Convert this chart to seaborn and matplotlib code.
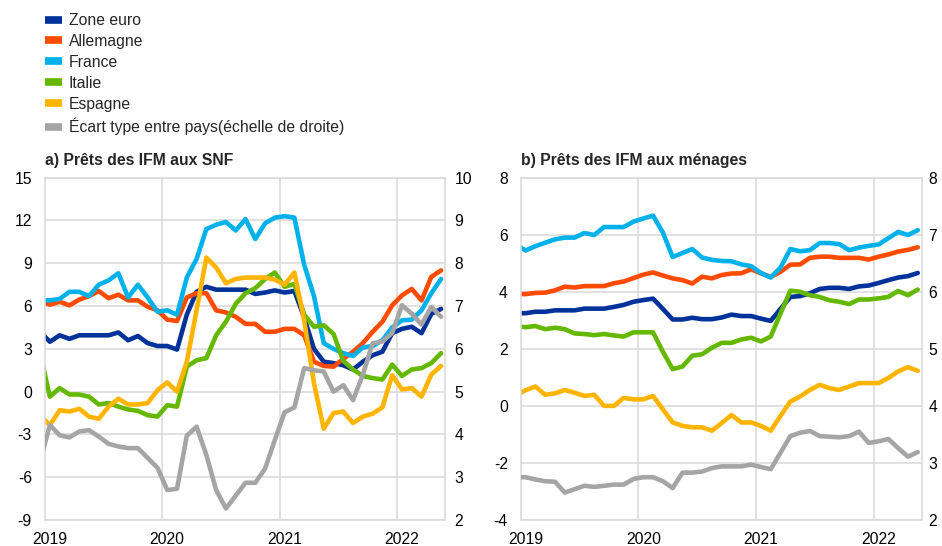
import matplotlib
matplotlib.use("Agg")
import numpy as np
import pandas as pd
import seaborn as sns
import matplotlib.pyplot as plt
from matplotlib.lines import Line2D

# monthly observations, Dec 2018 (clipped at the left edge) to May 2022
months = pd.period_range("2018-12", "2022-05", freq="M")
year_labels = ["2019", "2020", "2021", "2022"]

countries = ["Zone euro", "Allemagne", "France", "Italie", "Espagne"]
spread_label = "Écart type entre pays(échelle de droite)"

# a) loans to non-financial corporations (annual growth, %)
snf_zone_euro = [4.2, 3.5, 3.95, 3.7, 3.95, 3.95, 3.95, 3.95, 4.15, 3.6, 3.9, 3.4, 3.2, 3.2,
                 2.95, 5.4, 7.0, 7.35, 7.15, 7.15, 7.15, 7.15, 6.85, 6.95, 7.1, 6.95, 7.05,
                 5.2, 3.0, 2.1, 2.0, 1.85, 1.55, 2.1, 2.55, 2.8, 4.1, 4.4, 4.55, 4.1, 5.45, 5.8]
snf_allemagne = [6.3, 6.1, 6.3, 6.05, 6.45, 6.7, 7.05, 6.55, 6.8, 6.4, 6.4, 5.95, 5.7, 5.05,
                 4.95, 6.6, 6.9, 6.9, 5.7, 5.55, 5.25, 4.75, 4.75, 4.2, 4.2, 4.4, 4.4,
                 3.95, 2.1, 1.8, 1.75, 2.3, 2.8, 3.4, 4.2, 4.9, 6.05, 6.75, 7.2, 6.4, 8.05, 8.5]
snf_france = [6.4, 6.4, 6.5, 7.0, 7.0, 6.7, 7.5, 7.8, 8.3, 6.6, 7.5, 6.6, 5.6, 5.7,
              5.4, 8.0, 9.3, 11.4, 11.7, 11.9, 11.3, 12.1, 10.7, 11.8, 12.2, 12.3, 12.2,
              8.9, 6.7, 3.4, 3.0, 2.7, 2.5, 3.1, 3.2, 3.6, 4.5, 5.0, 5.05, 5.7, 6.9, 7.9]
snf_italie = [2.7, -0.35, 0.25, -0.2, -0.2, -0.35, -0.9, -0.8, -1.05, -1.25, -1.35, -1.65, -1.75, -0.95,
              -1.05, 1.75, 2.2, 2.35, 3.95, 4.9, 6.15, 6.9, 7.25, 7.9, 8.35, 7.35, 7.55,
              5.4, 4.55, 4.65, 4.05, 2.15, 1.55, 1.1, 0.95, 0.85, 1.9, 1.1, 1.55, 1.65, 2.0, 2.7]
snf_espagne = [-1.65, -2.35, -1.3, -1.4, -1.2, -1.75, -1.9, -1.05, -0.5, -0.9, -0.9, -0.8, 0.1, 0.65,
               0.0, 2.1, 5.7, 9.4, 8.7, 7.6, 7.9, 8.0, 8.0, 8.0, 7.85, 7.5, 8.35,
               5.0, 0.6, -2.6, -1.5, -1.4, -2.2, -1.75, -1.55, -1.1, 1.15, 0.15, 0.25, -0.35, 1.2, 1.8]
snf_ecart = [3.37, 4.22, 3.98, 3.93, 4.07, 4.10, 3.95, 3.78, 3.72, 3.68, 3.68, 3.45, 3.22, 2.70,
             2.73, 3.97, 4.18, 3.52, 2.70, 2.27, 2.57, 2.87, 2.87, 3.20, 3.87, 4.52, 4.63,
             5.55, 5.50, 5.47, 5.00, 5.15, 4.80, 5.40, 6.13, 6.17, 6.37, 7.02, 6.82, 6.57, 6.98, 6.75]

# b) loans to households (annual growth, %)
men_zone_euro = [3.25, 3.25, 3.3, 3.3, 3.35, 3.35, 3.35, 3.41, 3.41, 3.41, 3.47, 3.54, 3.65, 3.71,
                 3.76, 3.4, 3.03, 3.03, 3.09, 3.04, 3.04, 3.1, 3.2, 3.15, 3.15, 3.06, 2.98,
                 3.4, 3.82, 3.85, 3.95, 4.1, 4.14, 4.14, 4.1, 4.19, 4.22, 4.31, 4.41, 4.5, 4.55, 4.66]
men_allemagne = [3.92, 3.92, 3.96, 3.97, 4.05, 4.18, 4.15, 4.2, 4.2, 4.2, 4.3, 4.36, 4.48, 4.6,
                 4.68, 4.57, 4.47, 4.41, 4.29, 4.53, 4.47, 4.59, 4.64, 4.65, 4.79, 4.65, 4.52,
                 4.7, 4.95, 4.96, 5.19, 5.23, 5.23, 5.19, 5.19, 5.19, 5.13, 5.23, 5.31, 5.41, 5.47, 5.56]
men_france = [5.65, 5.45, 5.6, 5.72, 5.84, 5.9, 5.9, 6.06, 5.99, 6.27, 6.27, 6.27, 6.46, 6.57,
              6.67, 6.08, 5.22, 5.36, 5.5, 5.2, 5.12, 5.08, 5.07, 4.96, 4.9, 4.66, 4.5,
              4.85, 5.5, 5.42, 5.46, 5.71, 5.71, 5.67, 5.46, 5.55, 5.61, 5.66, 5.88, 6.1, 5.99, 6.16]
men_italie = [2.79, 2.76, 2.8, 2.69, 2.74, 2.69, 2.54, 2.52, 2.48, 2.52, 2.47, 2.43, 2.58, 2.58,
              2.58, 1.9, 1.29, 1.38, 1.76, 1.81, 2.04, 2.21, 2.21, 2.33, 2.39, 2.26, 2.43,
              3.24, 4.04, 4.0, 3.88, 3.82, 3.7, 3.65, 3.57, 3.73, 3.73, 3.77, 3.82, 4.03, 3.88, 4.08]
men_espagne = [0.37, 0.55, 0.68, 0.39, 0.44, 0.56, 0.46, 0.35, 0.39, 0.0, 0.0, 0.28, 0.23, 0.23,
               0.35, -0.12, -0.58, -0.7, -0.75, -0.75, -0.87, -0.6, -0.32, -0.58, -0.58, -0.7, -0.87,
               -0.35, 0.15, 0.33, 0.56, 0.74, 0.62, 0.56, 0.68, 0.8, 0.8, 0.8, 0.98, 1.21, 1.36, 1.23]
men_ecart = [2.75, 2.75, 2.71, 2.68, 2.67, 2.48, 2.54, 2.6, 2.58, 2.6, 2.62, 2.62, 2.72, 2.75,
             2.75, 2.68, 2.56, 2.83, 2.83, 2.85, 2.91, 2.94, 2.94, 2.94, 2.97, 2.93, 2.89,
             3.18, 3.47, 3.53, 3.56, 3.47, 3.46, 3.45, 3.47, 3.55, 3.35, 3.38, 3.42, 3.26, 3.11, 3.19]

colors = {
    "Zone euro": "#003299",
    "Allemagne": "#ff4b00",
    "France": "#00b1ea",
    "Italie": "#65b800",
    "Espagne": "#ffb400",
}
gray = "#a5a5a5"
grid_color = "#d9d9d9"

sns.set_theme(style="white")
plt.rcParams["font.family"] = ["Liberation Sans", "DejaVu Sans"]
plt.rcParams["axes.unicode_minus"] = False
FS = 11.3

# month position: 0 = Jan 2019
pos = np.array((months.year - 2019) * 12 + months.month - 1)


def long_frame(values):
    rows = []
    for name, vals in zip(countries, values):
        rows.append(pd.DataFrame({"pos": pos, "value": vals, "series": name}))
    return pd.concat(rows, ignore_index=True)


def draw_panel(ax, values, spread, ylim, ystep, ylim2, title, pad_left, pad_right):
    ax.yaxis.grid(True, color=grid_color, lw=1.1)
    ax.set_axisbelow(True)
    for p in [11.5, 23.5, 35.5]:
        ax.axvline(p, color=grid_color, lw=1.1, zorder=1)

    sns.lineplot(data=long_frame(values), x="pos", y="value", hue="series",
                 hue_order=countries, palette=colors, linewidth=3.3, legend=False,
                 sort=False, ax=ax, solid_joinstyle="round")
    ax.set_xlim(-0.5, 40.4)
    ax.set_ylim(*ylim)
    ax.set_yticks(np.arange(ylim[0], ylim[1] + 0.1, ystep))
    ax.set_xticks([0, 12, 24, 36])
    ax.set_xticklabels(year_labels)
    ax.set_xlabel("")
    ax.set_ylabel("")
    ax.tick_params(axis="y", length=0, labelsize=FS, colors="black", pad=pad_left)
    ax.tick_params(axis="x", length=0, labelsize=FS, colors="black", pad=9)
    for s in ax.spines.values():
        s.set_color(grid_color)
        s.set_linewidth(1.1)
    ax.set_title(title, loc="left", fontsize=FS, fontweight="bold", pad=9)

    ax2 = ax.twinx()
    sns.lineplot(x=pos, y=spread, color=gray, linewidth=3.3, sort=False, ax=ax2,
                 solid_joinstyle="round")
    ax2.set_ylim(*ylim2)
    ax2.set_yticks(np.arange(ylim2[0], ylim2[1] + 0.1, 1))
    ax2.set_ylabel("")
    ax2.tick_params(axis="y", length=0, labelsize=FS, colors="black", pad=pad_right)
    for s in ax2.spines.values():
        s.set_visible(False)
    ax2.grid(False)
    ax2.set_xlim(-0.5, 40.4)


fig = plt.figure(figsize=(9.42, 5.46), dpi=100)
W, H = 942, 546
ax_a = fig.add_axes([45 / W, 1 - 520 / H, 400 / W, 342.3 / H])
ax_b = fig.add_axes([520.7 / W, 1 - 520 / H, 401 / W, 342.3 / H])

draw_panel(ax_a, [snf_zone_euro, snf_allemagne, snf_france, snf_italie, snf_espagne],
           snf_ecart, (-9, 15), 3, (2, 10), "a) Prêts des IFM aux SNF", 9.4, 7)
draw_panel(ax_b, [men_zone_euro, men_allemagne, men_france, men_italie, men_espagne],
           men_ecart, (-4, 8), 2, (2, 8), "b) Prêts des IFM aux ménages", 9.2, 5)

handles = [Line2D([0], [0], color=colors[c], lw=5.5, solid_capstyle="butt") for c in countries]
handles.append(Line2D([0], [0], color=gray, lw=5.5, solid_capstyle="butt"))
fig.legend(handles, countries + [spread_label], loc="upper left",
           bbox_to_anchor=(45 / W, 1 - 13 / H), frameon=False, fontsize=FS,
           handlelength=1.1, handletextpad=0.4, labelspacing=0.38,
           borderpad=0, borderaxespad=0)

fig.savefig("out.png", dpi=100)
